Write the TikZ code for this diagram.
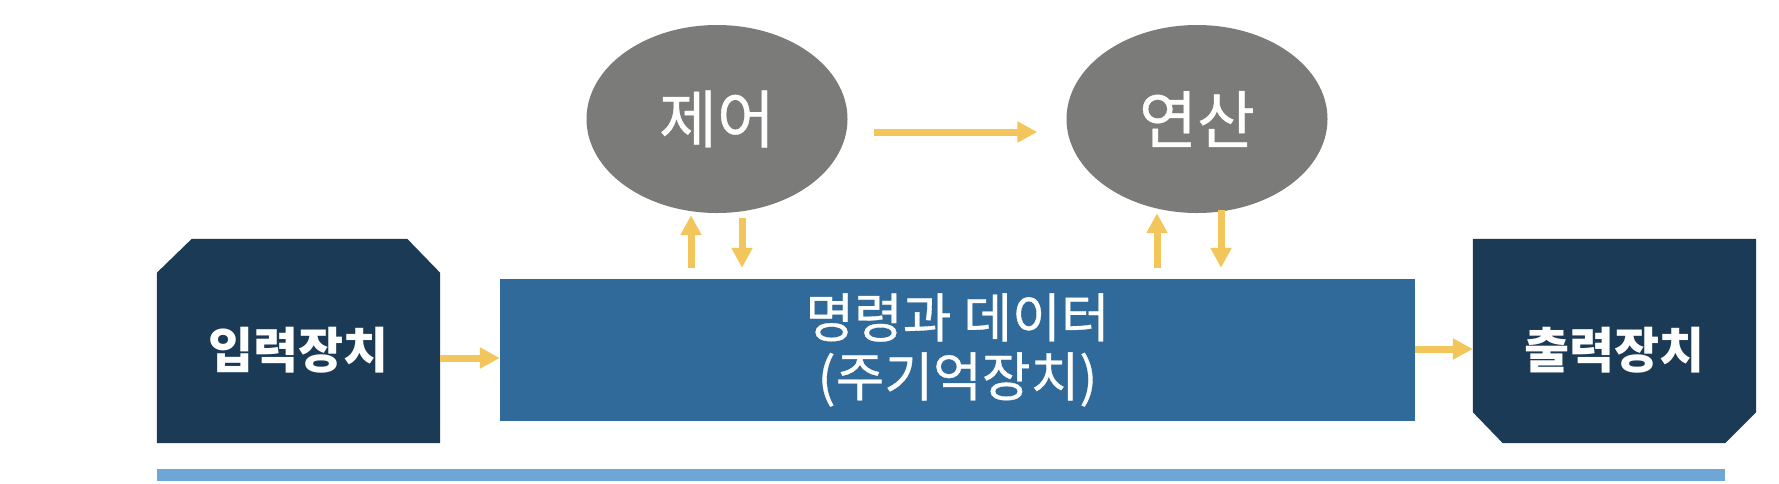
\documentclass[tikz,border=0pt]{standalone}
\usepackage{fontspec}
\newfontfamily\kr{Noto Sans CJK KR}
\newfontfamily\krm[FakeBold=0.6]{Noto Sans CJK KR}
\usetikzlibrary{shapes.geometric,arrows.meta,backgrounds}
\definecolor{navy}{HTML}{1B3A56}
\definecolor{mainblue}{HTML}{2F6A9B}
\definecolor{ellgray}{HTML}{7B7C7A}
\definecolor{arrowyel}{HTML}{F2C65A}
\definecolor{barblue}{HTML}{6EA6D6}
\tikzset{
  devbox/.style={minimum width=283pt, minimum height=204pt, inner sep=0pt},
  devtext/.style={text=white, font=\kr\bfseries\fontsize{49}{52}\selectfont},
  ellnode/.style={ellipse, fill=ellgray, minimum width=261pt, minimum height=188pt, inner sep=0pt, text=white, font=\krm\fontsize{63}{66}\selectfont},
  mainnode/.style={fill=mainblue, minimum width=915pt, minimum height=142pt, inner sep=0pt, text=white, align=center, font=\krm\fontsize{53}{59}\selectfont},
  arr/.style={draw=arrowyel, line width=7pt, -{Triangle[length=20pt,width=20pt]}}
}
\begin{document}
\begin{tikzpicture}[x=1pt,y=-1pt]
\begin{scope}[on background layer]
\fill[white] (0,0) rectangle (1779,483);
\end{scope}
\useasboundingbox (0,0) rectangle (1779,483);
% nodes
\node[devbox] (in) at (298.5,341) {};
\node[devbox] (out) at (1614.5,341) {};
\node[mainnode] (main) at (957.5,350) {명령과 데이터\\(주기억장치)};
\node[ellnode] (ctrl) at (717,119) {제어};
\node[ellnode] (calc) at (1197,119) {연산};
\node[devtext] (intext) at (298.5,350) {입력장치};
\node[devtext] (outtext) at (1614.5,350) {출력장치};
\begin{scope}[on background layer]
\fill[navy] (in.south west) -- ([yshift=-34pt]in.north west) -- ([xshift=35pt]in.north west) -- ([xshift=-33pt]in.north east) -- ([yshift=-34pt]in.north east) -- (in.south east) -- cycle;
\fill[navy] (out.north west) -- (out.north east) -- ([yshift=31pt]out.south east) -- ([xshift=-31pt]out.south east) -- ([xshift=30pt]out.south west) -- ([yshift=31pt]out.south west) -- cycle;
\end{scope}
% bottom bar
\fill[barblue] (157,469) rectangle (1725,481);
% connectors
\draw[arr] (in.east |- 0,358) -- (main.west |- 0,358);
\draw[arr] (main.east |- 0,349) -- (out.west |- 0,349);
\draw[arr, shorten <=26pt, shorten >=29pt] (ctrl.east |- 0,132) -- (calc.west |- 0,132);
\draw[arr, shorten <=11pt, shorten >=2pt] (main.north -| 691,0) -- (ctrl.south -| 691,0);
\draw[arr, shorten <=5pt, shorten >=11pt] (ctrl.south -| 742,0) -- (main.north -| 742,0);
\draw[arr, shorten <=11pt, shorten >=0pt] (main.north -| 1157,0) -- (calc.south -| 1157,0);
\draw[arr, shorten <=-3pt, shorten >=11pt] (calc.south -| 1221,0) -- (main.north -| 1221,0);
\end{tikzpicture}
\end{document}
